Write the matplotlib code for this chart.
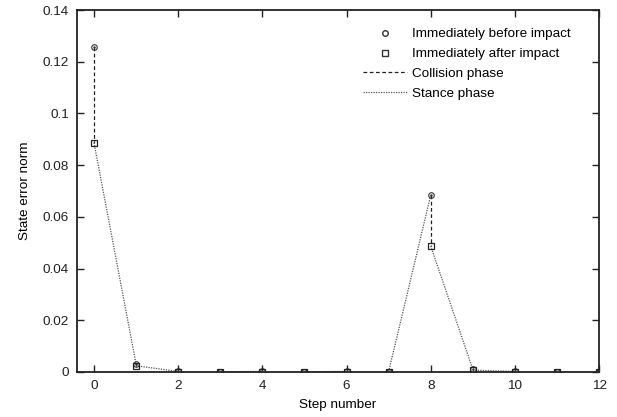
import numpy as np
import matplotlib.pyplot as plt

plt.rcParams['font.family'] = ['Liberation Sans', 'DejaVu Sans']

# step data
steps = list(range(13))
before_impact = [0.1255, 0.0031, 0.0002, 0.0001, 0.0002, 0.0001, 0.0002,
                 0.0001, 0.0684, 0.0010, 0.0002, 0.0001, 0.0001]
after_impact = [0.0887, 0.0024, 0.0001, 0.0001, 0.0001, 0.0001, 0.0001,
                0.0001, 0.0487, 0.0007, 0.0001, 0.0001, 0.0001]
legend_labels = ['Immediately before impact', 'Immediately after impact',
                 'Collision phase', 'Stance phase']
fs = 9.7

fig = plt.figure(figsize=(6.17, 4.17), dpi=100)
ax = fig.add_axes([0.125, 0.108, 0.846, 0.868])

# collision phase: before -> after at same step
for k in steps:
    ax.plot([k, k], [before_impact[k], after_impact[k]], color='#222222',
            linestyle=(0, (3, 2)), linewidth=0.9, zorder=2)
# stance phase: after step k -> before step k+1
for k in steps[:-1]:
    ax.plot([k, k + 1], [after_impact[k], before_impact[k + 1]], color='#555555',
            linestyle=(0, (1, 1)), linewidth=0.9, zorder=2)

ax.plot(steps, before_impact, linestyle='none', marker='o', markersize=4,
        markerfacecolor='none', markeredgecolor='#333333', markeredgewidth=0.8,
        zorder=3)
ax.plot(steps, before_impact, linestyle='none', marker='.', markersize=1.5,
        color='#333333', zorder=3)
ax.plot(steps, after_impact, linestyle='none', marker='s', markersize=4.5,
        markerfacecolor='none', markeredgecolor='#222222', markeredgewidth=0.9,
        zorder=3)

# legend proxies
h1, = ax.plot([], [], linestyle='none', marker='o', markersize=4,
              markerfacecolor='none', markeredgecolor='#333333')
h2, = ax.plot([], [], linestyle='none', marker='s', markersize=4.5,
              markerfacecolor='none', markeredgecolor='#333333')
h3, = ax.plot([], [], color='#222222', linestyle=(0, (3, 2)), linewidth=0.9)
h4, = ax.plot([], [], color='#555555', linestyle=(0, (1, 1)), linewidth=0.9)
ax.legend([h1, h2, h3, h4], legend_labels,
          loc='upper left', frameon=False, fontsize=fs, handlelength=3.25,
          handletextpad=0.4, labelspacing=0.55, borderaxespad=0.0,
          bbox_to_anchor=(0.5375, 0.965))

ax.set_xlim(-0.4, 12)
ax.set_ylim(0, 0.14)
ax.set_xticks(range(0, 13, 2))
ax.set_yticks(np.arange(0, 0.141, 0.02))
ax.set_yticklabels(['0', '0.02', '0.04', '0.06', '0.08', '0.1', '0.12', '0.14'])
ax.tick_params(direction='in', top=True, right=True, length=5, width=1,
               labelsize=fs, pad=6, colors='#222222')
for s in ax.spines.values():
    s.set_linewidth(1.3)
    s.set_color('#222222')

ax.set_xlabel('Step number', fontsize=fs, labelpad=5)
ax.set_ylabel('State error norm', fontsize=fs, labelpad=8)

fig.savefig('out.png', dpi=100)
